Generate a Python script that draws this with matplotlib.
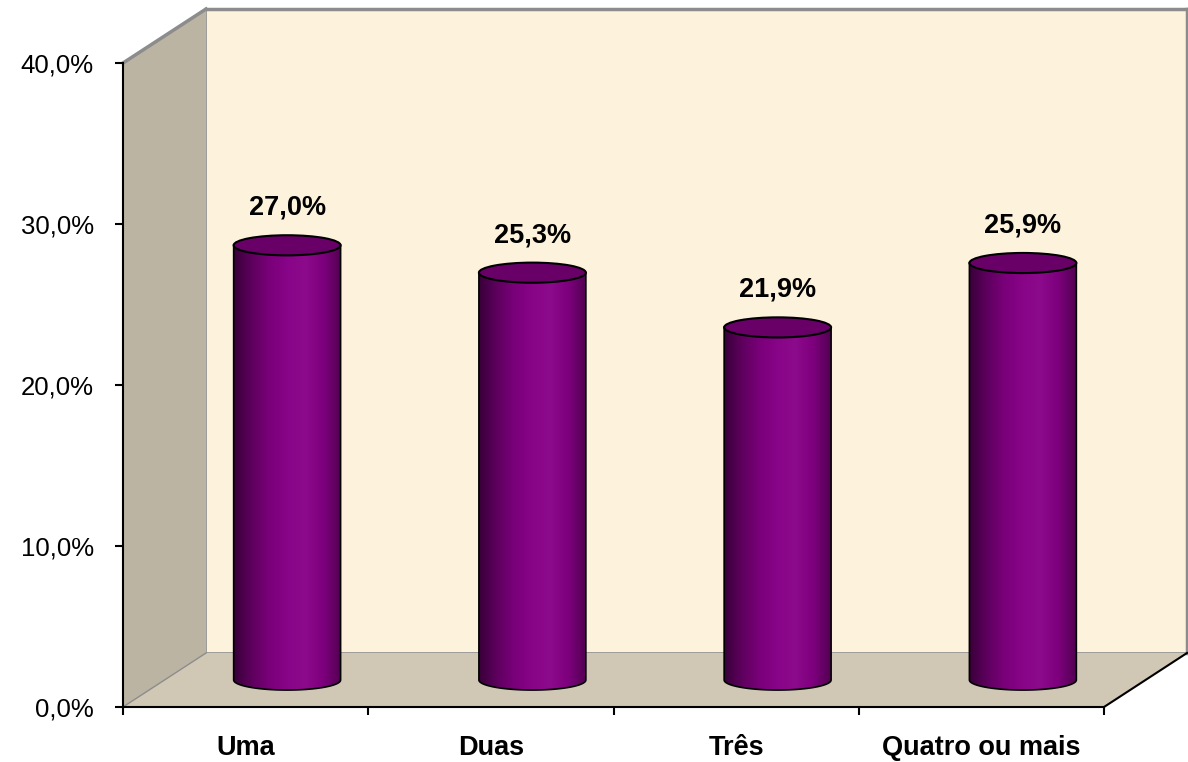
import numpy as np
import matplotlib.pyplot as plt
from matplotlib.colors import LinearSegmentedColormap
from matplotlib.patches import Ellipse, PathPatch, Polygon
from matplotlib.path import Path
from matplotlib.lines import Line2D
from matplotlib.transforms import IdentityTransform

plt.rcParams['font.family'] = ['Liberation Sans', 'DejaVu Sans']

categories = ['Uma', 'Duas', 'Três', 'Quatro ou mais']
values = [27.0, 25.3, 21.9, 25.9]
y_ticks = [0, 10, 20, 30, 40]

W, H = 1188, 762
fig = plt.figure(figsize=(W / 100, H / 100), dpi=100)
n = len(categories)

# front plane of the box in pixels, plus the depth shift
L, T, R, B = 123, 63, 1104, 707
DX, DY = 83, 54
YMAX = 40
PX_PER_UNIT = (B - T) / YMAX


def px_axes(l, t, r, b, z, ymin=0):
    b = b - ymin * PX_PER_UNIT
    ax = fig.add_axes([l / W, (H - b) / H, (r - l) / W, (b - t) / H], zorder=z)
    ax.set_xlim(-0.5, n - 0.5)
    ax.set_ylim(ymin, YMAX)
    return ax


ax_back = px_axes(L + DX, T - DY, R + DX, B - DY, -1)
ax_front = px_axes(L, T, R, B, 1)
# middle plane, reaching a bit below zero so the cylinder bottoms fit
ax_mid = px_axes(L + DX / 2, T - DY / 2, R + DX / 2, B - DY / 2, 2, ymin=-3)

# back wall
ax_back.set_facecolor('#fdf2dc')
ax_back.set_xticks([])
ax_back.set_yticks([])
for s in ax_back.spines.values():
    s.set_color('#8c8c8c')
    s.set_linewidth(1.2)
ax_back.spines['top'].set_linewidth(2.5)
ax_back.spines['right'].set_linewidth(2.5)

# floor and side wall, in pixels
f0, f1 = ax_front.transData.transform([(-0.5, 0), (n - 0.5, 0)])
ft = ax_front.transData.transform((-0.5, YMAX))
b0, b1 = ax_back.transData.transform([(-0.5, 0), (n - 0.5, 0)])
bt = ax_back.transData.transform((-0.5, YMAX))
idt = IdentityTransform()
fig.add_artist(Polygon([f0, f1, b1, b0], closed=True, transform=idt,
                       facecolor='#d0c8b4', edgecolor='none', zorder=0))
fig.add_artist(Polygon([f0, ft, bt, b0], closed=True, transform=idt,
                       facecolor='#bcb4a3', edgecolor='none', zorder=0))
fig.add_artist(Line2D([ft[0], bt[0]], [ft[1], bt[1]], transform=idt,
                      color='#8c8c8c', lw=2.5, zorder=0.2))
fig.add_artist(Line2D([f0[0], b0[0]], [f0[1], b0[1]], transform=idt,
                      color='#8c8c8c', lw=1, zorder=0.2))
fig.add_artist(Line2D([f1[0], b1[0]], [f1[1], b1[1]], transform=idt,
                      color='black', lw=1.5, zorder=0.2))

# front axes: spines, ticks, labels
ax_front.set_facecolor('none')
ax_front.spines['top'].set_visible(False)
ax_front.spines['right'].set_visible(False)
ax_front.spines['left'].set_linewidth(1.5)
ax_front.spines['bottom'].set_linewidth(1.5)
ax_front.set_yticks(y_ticks)
ax_front.set_yticklabels([f'{v:.1f}%'.replace('.', ',') for v in y_ticks])
ax_front.tick_params(axis='y', length=6, width=1.5, pad=15, labelsize=18.5)
ax_front.set_xticks(np.arange(n + 1) - 0.5)
ax_front.set_xticklabels([])
ax_front.set_xticks(np.arange(n), minor=True)
ax_front.set_xticklabels(categories, minor=True, fontsize=19.5, fontweight='bold')
ax_front.tick_params(axis='x', which='major', length=6, width=1.5)
ax_front.tick_params(axis='x', which='minor', length=0, pad=20)

# cylinders
ax_mid.axis('off')
cyl_cmap = LinearSegmentedColormap.from_list(
    'cyl', ['#380038', '#5e005e', '#7a007a', '#880488', '#8c0a8c', '#7e007e', '#520052'])
grad = np.linspace(0, 1, 256).reshape(1, -1)
w = 0.436
eh = 1.25
t = np.linspace(np.pi, 2 * np.pi, 60)
for i, v in enumerate(values):
    x0 = i - w / 2
    arc = np.column_stack([i + w / 2 * np.cos(t), eh / 2 * np.sin(t)])
    verts = np.vstack([[x0, v], arc, [x0 + w, v], [x0, v]])
    body = PathPatch(Path(verts, closed=True), facecolor='none', edgecolor='black',
                     lw=1.2, zorder=3)
    ax_mid.add_patch(body)
    im = ax_mid.imshow(grad, cmap=cyl_cmap, aspect='auto', extent=[x0, x0 + w, -eh / 2, v],
                       zorder=2)
    im.set_clip_path(body)
    ax_mid.add_patch(Ellipse((i, v), w, eh, facecolor='#680068', edgecolor='black',
                             lw=1.5, zorder=4))
    ax_mid.annotate(f'{v:.1f}%'.replace('.', ','), (i, v), xytext=(0, 27),
                    textcoords='offset points', ha='center', va='center',
                    fontsize=19.5, fontweight='bold', zorder=5)
ax_mid.set_xlim(-0.5, n - 0.5)
ax_mid.set_ylim(-3, YMAX)

fig.savefig('out.png', dpi=100)
